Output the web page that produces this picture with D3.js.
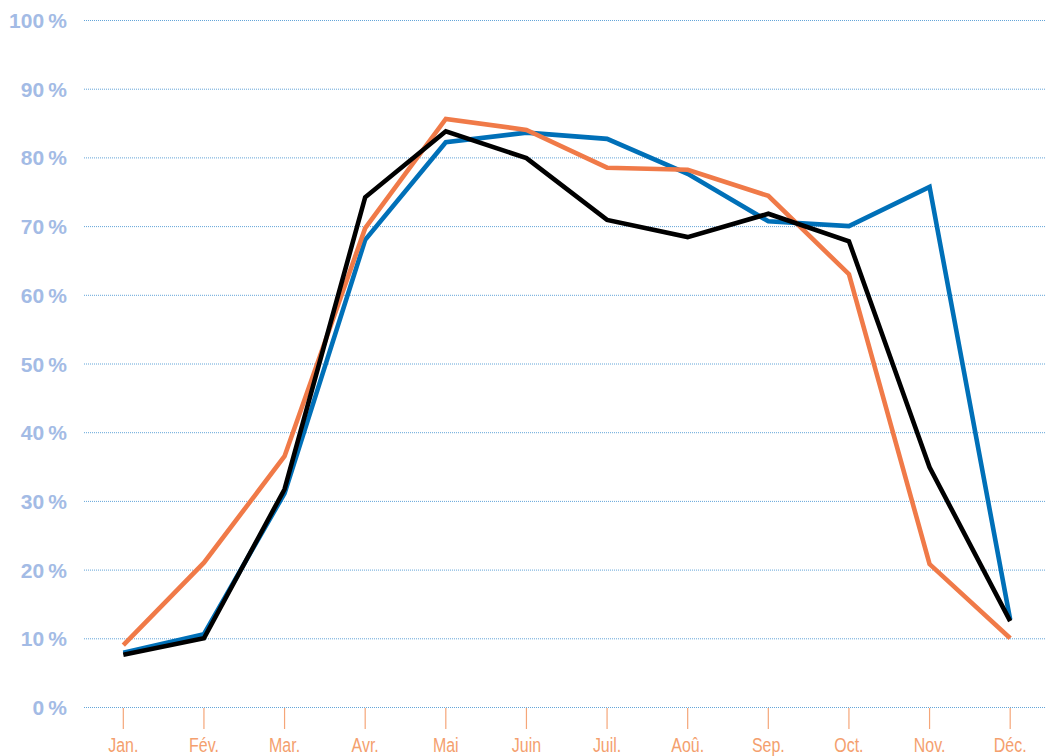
<!DOCTYPE html>
<html><head><meta charset="utf-8">
<script src="https://cdn.jsdelivr.net/npm/d3@7"></script>
<style>body{margin:0;background:#fff}</style>
</head><body>
<svg id="c" width="1046" height="756"></svg>
<script>
const months = ["Jan.","Fév.","Mar.","Avr.","Mai","Juin","Juil.","Aoû.","Sep.","Oct.","Nov.","Déc."];
const yTicks = [0,10,20,30,40,50,60,70,80,90,100];
const orangeSeries = [9.0,21.0,36.5,69.7,85.6,84.0,78.5,78.2,74.4,63.0,20.8,10.0];
const blueSeries = [7.9,10.6,31.1,68.0,82.2,83.6,82.7,77.6,70.7,70.0,75.7,12.7];
const blackSeries = [7.6,10.0,31.7,74.2,83.8,79.9,70.9,68.4,71.8,67.8,34.9,12.5];

const svg = d3.select("#c");
const x = d3.scalePoint().domain(months).range([83,1050.5]).padding(0.5);
const y = d3.scaleLinear().domain([0,100]).range([707,20]);

// gridlines
svg.append("g").selectAll("line").data(yTicks).join("line")
  .attr("x1",84).attr("x2",1046)
  .attr("y1",d=>y(d)+0.5).attr("y2",d=>y(d)+0.5)
  .attr("stroke","#3d8fd0").attr("stroke-width",1).attr("stroke-dasharray","1,1").attr("opacity",0.8);

// y labels
svg.append("g").selectAll("text").data(yTicks).join("text")
  .attr("x",67).attr("y",d=>y(d)+8)
  .attr("text-anchor","end")
  .attr("font-family","Liberation Sans, Arial, sans-serif").attr("font-weight","bold").attr("font-size",21)
  .attr("fill","#a3bbe5").text(d=>d+"\u202F%");

// x ticks
const xa = svg.append("g");
xa.selectAll("line").data(months).join("line")
  .attr("x1",d=>x(d)).attr("x2",d=>x(d)).attr("y1",708).attr("y2",729)
  .attr("stroke","#f5a679").attr("stroke-width",1.2);
xa.selectAll("text").data(months).join("text")
  .attr("transform",d=>`translate(${x(d)},752) scale(0.76,1)`).attr("text-anchor","middle")
  .attr("font-family","Liberation Sans, Arial, sans-serif").attr("font-size",21)
  .attr("fill","#f4a06e").text(d=>d);

const line = d3.line().x((d,i)=>x(months[i])).y(d=>y(d));
[[blueSeries,"#0070b8"],[orangeSeries,"#f07a48"],[blackSeries,"#000000"]].forEach(([s,c])=>{
  svg.append("path").datum(s).attr("d",line).attr("fill","none")
    .attr("stroke",c).attr("stroke-width",4.6).attr("stroke-linejoin","miter");
});
</script>
</body></html>
